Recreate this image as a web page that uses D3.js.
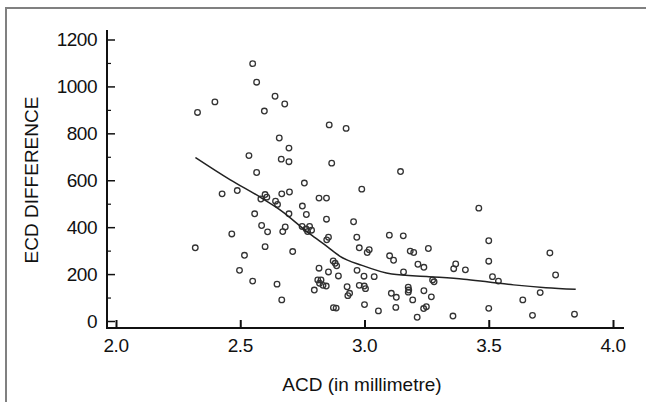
<!DOCTYPE html>
<html>
<head>
<meta charset="utf-8">
<script src="https://cdn.jsdelivr.net/npm/d3@7"></script>
<style>
  html, body { margin: 0; padding: 0; background: #fff; }
  svg { display: block; }
  text { font-family: Arial, "Liberation Sans", sans-serif; fill: #111; }
</style>
</head>
<body>
<svg id="chart" width="646" height="402"></svg>
<script>
// ---- data ----
const acd = [2.55,2.566,2.398,2.328,2.64,2.679,2.597,2.858,2.657,2.696,2.535,2.665,2.696,2.868,2.566,2.758,2.926,3.145,2.989,2.427,
  2.488,2.60,2.607,2.583,2.667,2.698,2.642,2.65,2.817,2.847,2.75,2.558,2.696,2.766,2.847,2.586,2.61,2.671,2.681,2.749,
  2.765,2.779,2.787,2.771,2.848,2.855,2.466,2.319,2.60,2.711,2.517,2.497,2.55,2.648,2.667,2.874,2.882,2.817,2.855,2.895,
  2.812,2.825,2.819,2.846,2.833,2.798,2.875,2.886,3.46,2.956,2.969,3.10,3.156,2.979,3.011,3.019,3.101,3.117,3.184,3.198,
  3.257,3.215,3.239,3.157,3.274,3.28,3.367,3.359,3.406,2.97,2.998,3.039,2.888,2.93,2.94,2.933,2.979,2.999,3.004,3.0,
  3.056,3.108,3.128,3.126,3.176,3.178,3.176,3.194,3.239,3.269,3.238,3.249,3.212,3.356,3.5,3.5,3.746,3.515,3.539,3.769,
  3.707,3.637,3.5,3.676,3.845];
const ecd = [1097,1018,934,889,958,925,895,836,780,737,705,690,679,673,633,588,821,637,562,542,
  556,539,528,520,542,550,511,497,524,524,490,457,457,454,434,407,380,381,401,403,
  392,403,387,381,346,357,371,312,317,296,280,216,170,157,90,256,246,225,209,192,
  175,175,161,149,152,132,57,55,481,423,357,366,363,312,292,304,278,259,298,292,
  309,242,229,209,175,167,243,223,218,216,191,189,235,146,118,108,152,149,138,70,
  43,118,101,58,144,132,123,90,129,103,53,61,16,21,342,255,290,189,170,196,
  121,90,54,24,29];
const fitX = [2.32,2.46,2.58,2.66,2.78,2.85,2.90,2.99,3.11,3.26,3.40,3.50,3.60,3.73,3.85];
const fitY = [697,602,528,474,371,317,277,237,200,189,178,166,154,142,135];
const xTicks = [2.0,2.5,3.0,3.5,4.0];
const yTicks = [0,200,400,600,800,1000,1200];
const yMinor = [100,300,500,700,900,1100];
const xTitle = "ACD (in millimetre)";
const yTitle = "ECD DIFFERENCE";

// ---- drawing ----
const svg = d3.select("#chart");
const x = d3.scaleLinear().domain([2.0, 4.0]).range([116, 613]);
const y = d3.scaleLinear().domain([0, 1200]).range([321, 39.5]);
const axisX0 = 107, axisY0 = 328;

// frame
svg.append("path").attr("d", "M6,402 V8 H646")
  .attr("fill", "none").attr("stroke", "#808080").attr("stroke-width", 2);

// axis lines
svg.append("line").attr("x1", axisX0).attr("x2", axisX0).attr("y1", 30).attr("y2", axisY0 + 1)
  .attr("stroke", "#111").attr("stroke-width", 2);
svg.append("line").attr("x1", axisX0 - 1).attr("x2", 624).attr("y1", axisY0).attr("y2", axisY0)
  .attr("stroke", "#111").attr("stroke-width", 2);

// y axis ticks (inward)
const yAxis = d3.axisRight(y).tickValues(yTicks).tickSize(8).tickFormat("");
const gy = svg.append("g").attr("transform", `translate(${axisX0},0)`).call(yAxis);
gy.select(".domain").remove();
gy.selectAll(".tick line").attr("stroke", "#111").attr("stroke-width", 1.5);
const yAxisMinor = d3.axisRight(y).tickValues(yMinor).tickSize(4).tickFormat("");
const gym = svg.append("g").attr("transform", `translate(${axisX0},0)`).call(yAxisMinor);
gym.select(".domain").remove();
gym.selectAll(".tick line").attr("stroke", "#111").attr("stroke-width", 1.2);
// y labels
svg.append("g").selectAll("text").data(yTicks).join("text")
  .attr("x", 97).attr("y", d => y(d)).attr("dy", "0.36em")
  .attr("text-anchor", "end").attr("font-size", 19).attr("letter-spacing", -0.5).text(d => d);

// x axis ticks (inward)
const xAxis = d3.axisTop(x).tickValues(xTicks).tickSize(8).tickFormat("");
const gx = svg.append("g").attr("transform", `translate(0,${axisY0})`).call(xAxis);
gx.select(".domain").remove();
gx.selectAll(".tick line").attr("stroke", "#111").attr("stroke-width", 2);
svg.append("g").selectAll("text").data(xTicks).join("text")
  .attr("x", d => x(d)).attr("y", 351.5)
  .attr("text-anchor", "middle").attr("font-size", 19).attr("letter-spacing", -0.5).text(d => d.toFixed(1));

// titles
svg.append("text").attr("x", 362).attr("y", 391).attr("text-anchor", "middle")
  .attr("font-size", 19).text(xTitle);
svg.append("text").attr("transform", "translate(38,180) rotate(-90)").attr("text-anchor", "middle")
  .attr("font-size", 19).text(yTitle);

// points
const pts = acd.map((a, i) => [a, ecd[i]]);
svg.append("g").selectAll("circle").data(pts).join("circle")
  .attr("cx", d => x(d[0])).attr("cy", d => y(d[1])).attr("r", 2.8)
  .attr("fill", "none").attr("stroke", "#333").attr("stroke-width", 1.3);

// fitted line
const fit = fitX.map((a, i) => [a, fitY[i]]);
svg.append("path").datum(fit)
  .attr("d", d3.line().x(d => x(d[0])).y(d => y(d[1])).curve(d3.curveMonotoneX))
  .attr("fill", "none").attr("stroke", "#222").attr("stroke-width", 1.5);
</script>
</body>
</html>
